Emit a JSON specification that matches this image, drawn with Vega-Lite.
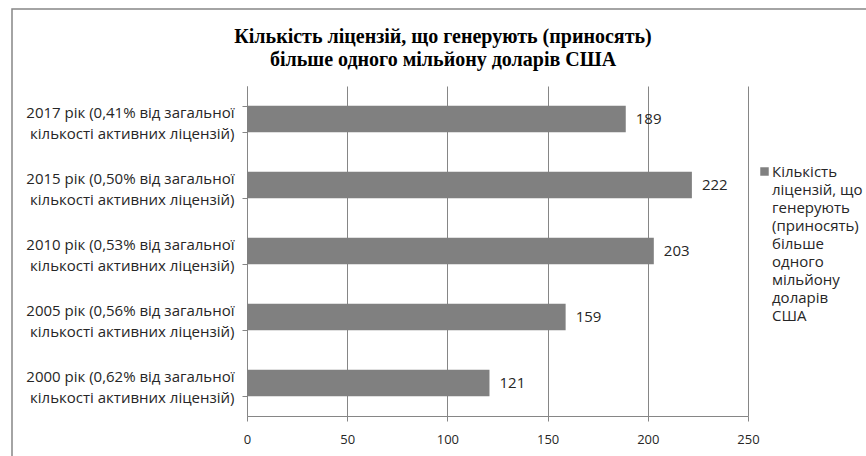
{
  "$schema": "https://vega.github.io/schema/vega-lite/v6.json",
  "width": 862,
  "height": 484,
  "autosize": {"type": "none"},
  "padding": {"left": 12, "top": 9, "right": -8, "bottom": -37},
  "background": "#ffffff",
  "config": {
    "view": {"stroke": "#868686", "strokeWidth": 1.5},
    "font": "Open Sans"
  },
  "title": {
    "text": ["Кількість ліцензій, що генерують (приносять)", "більше одного мільйону доларів США"],
    "font": "Liberation Serif",
    "fontSize": 20,
    "fontWeight": "bold",
    "color": "#000000",
    "anchor": "middle",
    "frame": "group",
    "baseline": "top",
    "lineHeight": 23,
    "offset": -68
  },
  "data": {
    "values": [
      {"period": "2017 рік (0,41% від загальної кількості активних ліцензій)", "licenses": 189, "series": "Кількість ліцензій,\u00a0що генерують (приносять) більше одного мільйону доларів США"},
      {"period": "2015 рік (0,50% від загальної кількості активних ліцензій)", "licenses": 222, "series": "Кількість ліцензій,\u00a0що генерують (приносять) більше одного мільйону доларів США"},
      {"period": "2010 рік (0,53% від загальної кількості активних ліцензій)", "licenses": 203, "series": "Кількість ліцензій,\u00a0що генерують (приносять) більше одного мільйону доларів США"},
      {"period": "2005 рік (0,56% від загальної кількості активних ліцензій)", "licenses": 159, "series": "Кількість ліцензій,\u00a0що генерують (приносять) більше одного мільйону доларів США"},
      {"period": "2000 рік (0,62% від загальної кількості активних ліцензій)", "licenses": 121, "series": "Кількість ліцензій,\u00a0що генерують (приносять) більше одного мільйону доларів США"}
    ]
  },
  "encoding": {
    "y": {
      "field": "period",
      "type": "nominal",
      "sort": null,
      "scale": {"range": [77, 407], "paddingInner": 0.6, "paddingOuter": 0.3},
      "axis": {
        "title": null,
        "offset": -235,
        "grid": false,
        "domainColor": "#868686",
        "tickColor": "#868686",
        "tickSize": 5,
        "tickBand": "extent",
        "labelFont": "Open Sans",
        "labelFontSize": 15,
        "labelColor": "#262626",
        "labelPadding": 8,
        "labelLineHeight": 21,
        "labelOffset": -7,
        "labelLimit": 300,
        "labelExpr": "[slice(datum.label, 0, indexof(datum.label, ' кількості')), slice(datum.label, indexof(datum.label, ' кількості') + 1)]"
      }
    },
    "x": {
      "field": "licenses",
      "type": "quantitative",
      "scale": {"domain": [0, 250], "range": [235, 736], "nice": false},
      "axis": {
        "title": null,
        "offset": -77,
        "values": [0, 50, 100, 150, 200, 250],
        "grid": true,
        "gridColor": "#868686",
        "domainColor": "#868686",
        "tickColor": "#868686",
        "tickSize": 5,
        "labelFont": "Open Sans",
        "labelFontSize": 13,
        "labelColor": "#262626",
        "labelPadding": 12,
        "labelFlush": false
      }
    }
  },
  "layer": [
    {
      "mark": {"type": "bar"},
      "encoding": {
        "color": {
          "field": "series",
          "type": "nominal",
          "scale": {"range": ["#808080"]},
          "legend": {
            "orient": "none",
            "legendX": 745,
            "legendY": 155,
            "title": null,
            "padding": 0,
            "symbolType": "square",
            "symbolSize": 72,
            "symbolStrokeWidth": 0,
            "labelFont": "Open Sans",
            "labelFontSize": 15,
            "labelColor": "#262626",
            "labelLimit": 200,
            "labelOffset": 0,
            "labelExpr": "split(datum.label, ' ')",
            "encode": {"labels": {"update": {"lineHeight": {"value": 18}}}}
          }
        }
      }
    },
    {
      "mark": {"type": "text", "align": "left", "baseline": "middle", "dx": 10, "font": "Open Sans", "fontSize": 15, "color": "#262626"},
      "encoding": {"text": {"field": "licenses", "type": "quantitative"}}
    }
  ]
}
